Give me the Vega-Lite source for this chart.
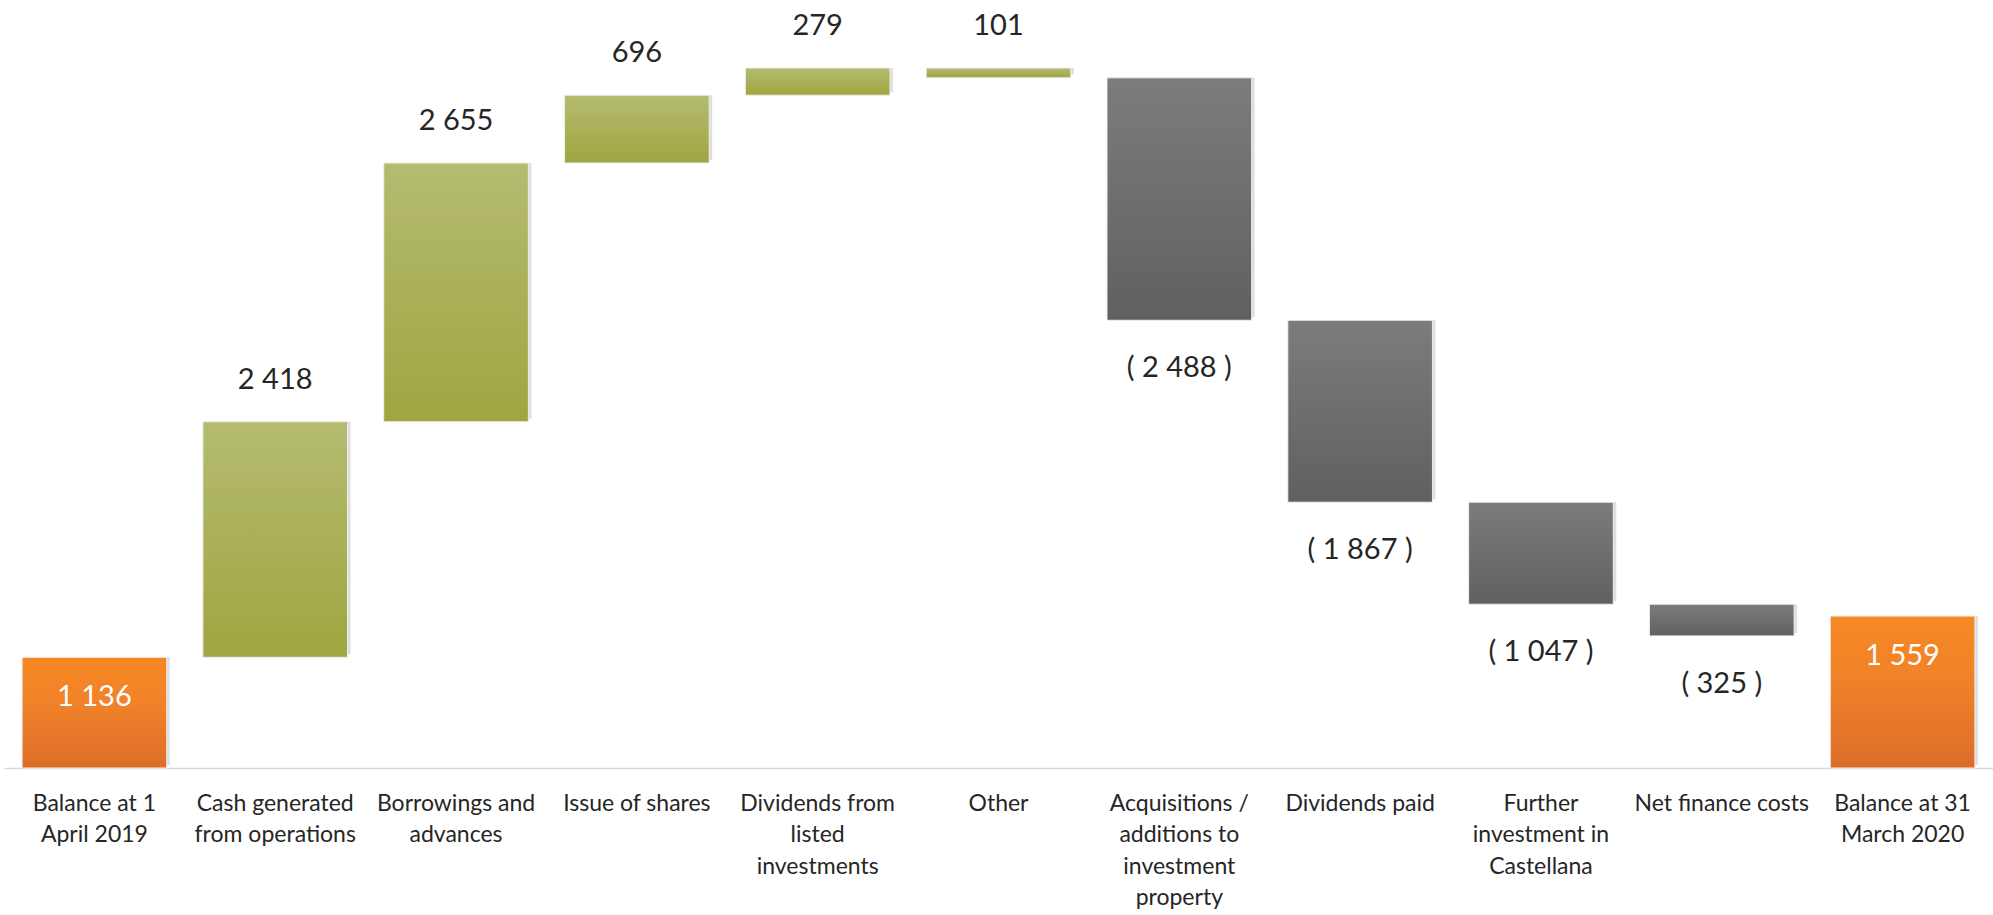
{
  "$schema": "https://vega.github.io/schema/vega-lite/v6.json",
  "width": 1989,
  "height": 768,
  "autosize": {"type": "none"},
  "padding": {"left": 4, "top": 0, "right": 0, "bottom": 147},
  "background": "white",
  "config": {"view": {"stroke": null}},
  "data": {
    "values": [
      {"cat": "Balance at 1|April 2019", "lo": 0, "hi": 1136, "type": "total", "text": "1 136"},
      {"cat": "Cash generated|from operations", "lo": 1136, "hi": 3554, "type": "up", "text": "2 418"},
      {"cat": "Borrowings and|advances", "lo": 3554, "hi": 6209, "type": "up", "text": "2 655"},
      {"cat": "Issue of shares", "lo": 6209, "hi": 6905, "type": "up", "text": "696"},
      {"cat": "Dividends from|listed|investments", "lo": 6905, "hi": 7184, "type": "up", "text": "279"},
      {"cat": "Other", "lo": 7083, "hi": 7184, "type": "up", "text": "101"},
      {"cat": "Acquisitions /|additions to|investment|property", "lo": 4595, "hi": 7083, "type": "down", "text": "( 2 488 )"},
      {"cat": "Dividends paid", "lo": 2728, "hi": 4595, "type": "down", "text": "( 1 867 )"},
      {"cat": "Further|investment in|Castellana", "lo": 1681, "hi": 2728, "type": "down", "text": "( 1 047 )"},
      {"cat": "Net finance costs", "lo": 1356, "hi": 1681, "type": "down", "text": "( 325 )"},
      {"cat": "Balance at 31|March 2020", "lo": 0, "hi": 1559, "type": "total", "text": "1 559"}
    ]
  },
  "encoding": {
    "x": {
      "field": "cat",
      "type": "nominal",
      "sort": null,
      "scale": {"paddingInner": 0.2, "paddingOuter": 0.1},
      "axis": {
        "title": null,
        "labelAngle": 0,
        "ticks": false,
        "domainColor": "#d9d9d9",
        "domainWidth": 1.5,
        "labelExpr": "split(datum.value, '|')",
        "labelFont": "Lato",
        "labelFontSize": 23,
        "labelColor": "#262626",
        "labelLineHeight": 31.5,
        "labelPadding": 24,
        "labelBaseline": "top",
        "labelLimit": 400
      }
    }
  },
  "layer": [
    {
      "mark": {"type": "bar", "color": "#c4c4c4", "opacity": 0.55, "xOffset": 3, "yOffset": -3},
      "encoding": {
        "y": {"field": "lo", "type": "quantitative", "scale": {"domain": [0, 7882], "nice": false, "zero": true}, "axis": null},
        "y2": {"field": "hi"}
      }
    },
    {
      "transform": [{"filter": "datum.type === 'up'"}],
      "mark": {
        "type": "bar",
        "stroke": "#eeeeee",
        "strokeWidth": 1,
        "color": {"gradient": "linear", "x1": 0, "y1": 0, "x2": 0, "y2": 1,
          "stops": [{"offset": 0, "color": "#b5bb70"}, {"offset": 1, "color": "#9ea640"}]}
      },
      "encoding": {
        "y": {"field": "lo", "type": "quantitative"},
        "y2": {"field": "hi"}
      }
    },
    {
      "transform": [{"filter": "datum.type === 'down'"}],
      "mark": {
        "type": "bar",
        "stroke": "#eeeeee",
        "strokeWidth": 1,
        "color": {"gradient": "linear", "x1": 0, "y1": 0, "x2": 0, "y2": 1,
          "stops": [{"offset": 0, "color": "#7b7c7e"}, {"offset": 1, "color": "#5f6062"}]}
      },
      "encoding": {
        "y": {"field": "lo", "type": "quantitative"},
        "y2": {"field": "hi"}
      }
    },
    {
      "transform": [{"filter": "datum.type === 'total'"}],
      "mark": {
        "type": "bar",
        "stroke": "#eeeeee",
        "strokeWidth": 1,
        "color": {"gradient": "linear", "x1": 0, "y1": 0, "x2": 0, "y2": 1,
          "stops": [{"offset": 0, "color": "#f68922"}, {"offset": 0.45, "color": "#f0812a"}, {"offset": 1, "color": "#dc6d28"}]}
      },
      "encoding": {
        "y": {"field": "lo", "type": "quantitative"},
        "y2": {"field": "hi"}
      }
    },
    {
      "transform": [{"filter": "datum.type === 'up'"}],
      "mark": {"type": "text", "font": "Lato", "fontSize": 29, "color": "#262626", "baseline": "middle", "dy": -42},
      "encoding": {
        "y": {"field": "hi", "type": "quantitative"},
        "text": {"field": "text"}
      }
    },
    {
      "transform": [{"filter": "datum.type === 'down'"}],
      "mark": {"type": "text", "font": "Lato", "fontSize": 29, "color": "#262626", "baseline": "middle", "dy": 48},
      "encoding": {
        "y": {"field": "lo", "type": "quantitative"},
        "text": {"field": "text"}
      }
    },
    {
      "transform": [{"filter": "datum.type === 'total'"}],
      "mark": {"type": "text", "font": "Lato", "fontSize": 29, "color": "white", "baseline": "middle", "dy": 40},
      "encoding": {
        "y": {"field": "hi", "type": "quantitative"},
        "text": {"field": "text"}
      }
    }
  ]
}
